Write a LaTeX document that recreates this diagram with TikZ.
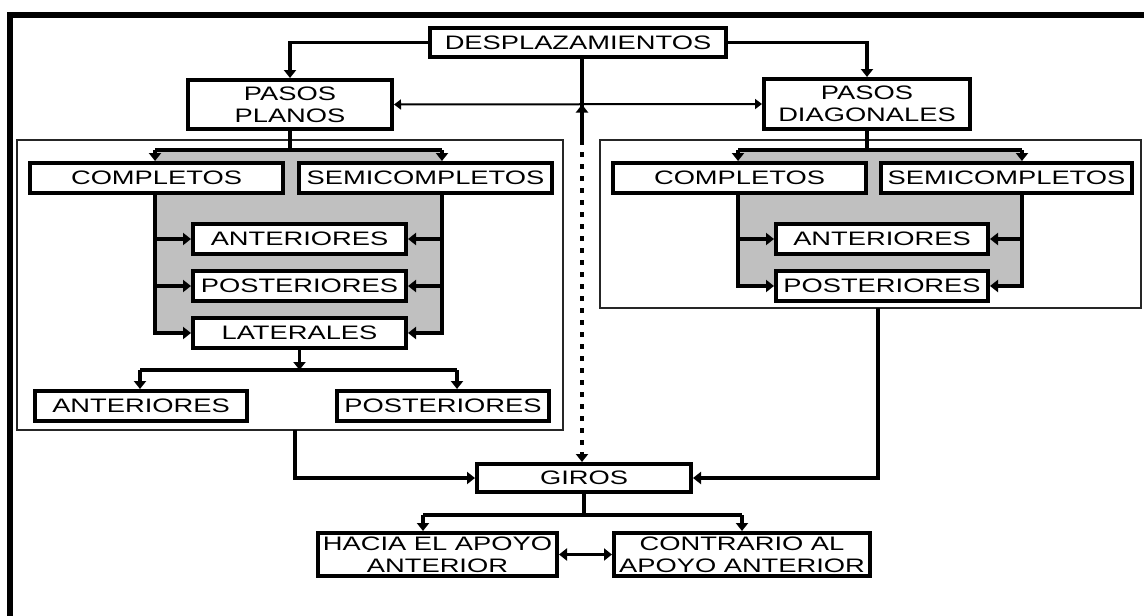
\documentclass[tikz,border=0pt]{standalone}
\usepackage{fontspec}
\usetikzlibrary{arrows.meta}
\newfontfamily\boxfont[FakeStretch=1.4]{Liberation Sans}
\definecolor{panelgray}{HTML}{C0C0C0}
\begin{document}
\begin{tikzpicture}[x=1pt,y=-1pt,
  box/.style={draw,line width=4pt,fill=white,inner sep=0pt,align=center,
    font=\boxfont\fontsize{19.5}{22}\selectfont},
  panel/.style={draw=black!85,line width=1.5pt,inner sep=0pt},
  conn/.style={line width=3.5pt},
  thinc/.style={line width=2pt},
  dotc/.style={line width=4pt,dash pattern=on 5pt off 7pt},
  tip/.style={-{Triangle[width=12pt,length=8pt]}},
  tips/.style={{Triangle[width=12pt,length=8pt]}-{Triangle[width=12pt,length=8pt]}},
  thintips/.style={{Triangle[width=10pt,length=7pt]}-{Triangle[width=10pt,length=7pt]}}]
\useasboundingbox (0,0) rectangle (1144,616);
\fill[white] (0,0) rectangle (1144,616);
% outer frame (top and left only visible)
\draw[line width=6pt] (7,15) -- (1144,15);
\draw[line width=6pt] (10,12) -- (10,616);
% panels and gray areas
\node[panel,minimum width=546pt,minimum height=290pt] (pl) at (290,285) {};
\node[panel,minimum width=541pt,minimum height=168pt] (pr) at (870.5,224) {};
\fill[panelgray] (155,150) rectangle (442,333);
\fill[panelgray] (738,150) rectangle (1022,286);
% boxes
\node[box,minimum width=296pt,minimum height=29pt] (desp) at (578,42.5) {DESPLAZAMIENTOS};
\node[box,minimum width=204pt,minimum height=49pt] (pp) at (290,104.5) {PASOS\\PLANOS};
\node[box,minimum width=206pt,minimum height=50pt] (pd) at (867,104) {PASOS\\DIAGONALES};
\node[box,minimum width=253pt,minimum height=30pt] (c1) at (156.5,178) {COMPLETOS};
\node[box,minimum width=253pt,minimum height=30pt] (s1) at (425.5,178) {SEMICOMPLETOS};
\node[box,minimum width=213pt,minimum height=30pt] (a1) at (299.5,239) {ANTERIORES};
\node[box,minimum width=213pt,minimum height=30pt] (p1) at (299.5,286) {POSTERIORES};
\node[box,minimum width=213pt,minimum height=30pt] (l1) at (299.5,333) {LATERALES};
\node[box,minimum width=212pt,minimum height=30pt] (a2) at (141,406) {ANTERIORES};
\node[box,minimum width=212pt,minimum height=30pt] (p2) at (443,406) {POSTERIORES};
\node[box,minimum width=253pt,minimum height=30pt] (c2) at (739.5,178) {COMPLETOS};
\node[box,minimum width=251pt,minimum height=30pt] (s2) at (1006.5,178) {SEMICOMPLETOS};
\node[box,minimum width=212pt,minimum height=30pt] (a3) at (882,239) {ANTERIORES};
\node[box,minimum width=212pt,minimum height=30pt] (p3) at (882,286) {POSTERIORES};
\node[box,minimum width=214pt,minimum height=28pt] (giros) at (584,478) {GIROS};
\node[box,minimum width=239pt,minimum height=43pt] (hacia) at (437.5,554.5) {HACIA EL APOYO\\ANTERIOR};
\node[box,minimum width=256pt,minimum height=43pt] (contra) at (742,554.5) {CONTRARIO AL\\APOYO ANTERIOR};
% top connectors
\draw[conn,tip] (desp.west) -| (pp.north);
\draw[conn,tip] (desp.east) -| (pd.north);
\draw[thinc,thintips] (pp.east) -- (pd.west);
\coordinate (v1) at (582,140);
\draw[conn] (desp.south -| v1) -- (v1);
\draw[conn,tip] (v1) -- (v1 |- pp.east);
\draw[dotc,tip] (v1) -- (v1 |- giros.north);
% left panel
\coordinate (L1) at (155,150);
\coordinate (R1) at (442,150);
\draw[conn] (pp.south) -- (pp.south |- L1);
\draw[conn] (L1) -- (R1);
\draw[conn,tip] (L1) -- (L1 |- c1.north);
\draw[conn,tip] (R1) -- (R1 |- s1.north);
\draw[conn,tip] (L1 |- c1.south) |- (l1.west);
\draw[conn,tip] (R1 |- s1.south) |- (l1.east);
\draw[conn,tip] (L1 |- a1.west) -- (a1.west);
\draw[conn,tip] (L1 |- p1.west) -- (p1.west);
\draw[conn,tip] (R1 |- a1.east) -- (a1.east);
\draw[conn,tip] (R1 |- p1.east) -- (p1.east);
\coordinate (B1) at (140,370);
\coordinate (B2) at (457,370);
\draw[conn] (B1) -- (B2);
\draw[conn,tip] (l1.south) -- (l1.south |- B1);
\draw[conn,tip] (B1) -- (B1 |- a2.north);
\draw[conn,tip] (B2) -- (B2 |- p2.north);
% right panel
\coordinate (L2) at (738,150);
\coordinate (R2) at (1022,150);
\draw[conn] (pd.south) -- (pd.south |- L2);
\draw[conn] (L2) -- (R2);
\draw[conn,tip] (L2) -- (L2 |- c2.north);
\draw[conn,tip] (R2) -- (R2 |- s2.north);
\draw[conn,tip] (L2 |- c2.south) |- (p3.west);
\draw[conn,tip] (R2 |- s2.south) |- (p3.east);
\draw[conn,tip] (L2 |- a3.west) -- (a3.west);
\draw[conn,tip] (R2 |- a3.east) -- (a3.east);
% to GIROS
\coordinate (lb) at (295,430);
\coordinate (rb) at (878,308);
\draw[conn,tip] (lb) |- (giros.west);
\draw[conn,tip] (rb) |- (giros.east);
\coordinate (G1) at (423,515);
\coordinate (G2) at (742,515);
\draw[conn] (giros.south) -- (giros.south |- G1);
\draw[conn] (G1) -- (G2);
\draw[conn,tip] (G1) -- (G1 |- hacia.north);
\draw[conn,tip] (G2) -- (G2 |- contra.north);
\draw[conn,tips] (hacia.east) -- (contra.west);
\end{tikzpicture}
\end{document}
